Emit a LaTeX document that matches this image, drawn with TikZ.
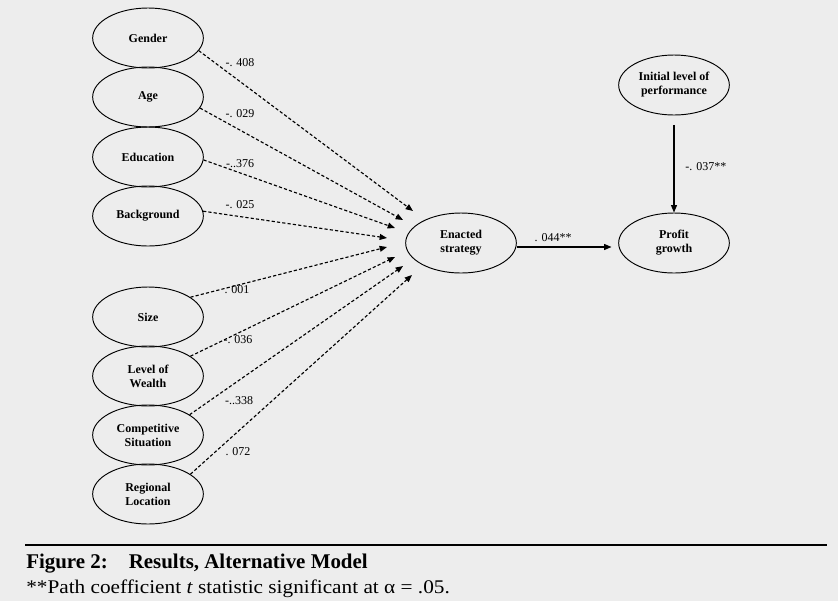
\documentclass[tikz,border=0pt]{standalone}
\usepackage{fontspec}
\setmainfont{Liberation Serif}
\newfontfamily\notefont[FakeStretch=1.1]{Liberation Serif}
\usetikzlibrary{arrows.meta,shapes.geometric}
\begin{document}
\begin{tikzpicture}[x=0.75pt,y=-0.75pt,
 var/.style={ellipse, draw, line width=0.7pt, minimum width=83pt, minimum height=45pt, inner sep=0pt, font=\fontsize{9}{10.5}\selectfont\bfseries, align=center},
 coef/.style={font=\fontsize{9}{10}\selectfont, inner sep=0pt},
 dpath/.style={line width=0.85pt, dash pattern=on 2.4pt off 1.6pt, -{Triangle[length=5.5pt,width=4.4pt]}},
 spath/.style={line width=0.85pt, -{Triangle[length=5.5pt,width=4.4pt]}}]
\fill[black!7] (0,0) rectangle (838,601);
\useasboundingbox (0,0) rectangle (838,601);

\node[var] (gender) at (148,38) {Gender};
\node[var] (age) at (148,97) {Age};
\node[var] (edu) at (148,157) {Education};
\node[var] (back) at (148,216) {Background};
\node[var] (size) at (148,317) {Size};
\node[var] (wealth) at (148,376) {Level of\\Wealth};
\node[var] (comp) at (148,435) {Competitive\\Situation};
\node[var] (reg) at (148,494) {Regional\\Location};

\node[var] (enacted) at (461,243) {Enacted\\strategy};
\node[var] (profit) at (674,243) {Profit\\growth};
\node[var] (initial) at (674,85) {Initial level of\\performance};

\coordinate (tG) at (413,211);
\coordinate (tA) at (403,220);
\coordinate (tE) at (395,228);
\coordinate (tB) at (387,238);
\coordinate (tS) at (387,247);
\coordinate (tW) at (395,257);
\coordinate (tC) at (403,266);
\coordinate (tR) at (412,275);

\draw[dpath] (gender.-14) -- (tG);
\draw[dpath] (age.-12) -- (tA);
\draw[dpath] (edu.-3) -- (tE);
\draw[dpath] (back.5) -- (tB);
\draw[dpath] (size.25) -- (tS);
\draw[dpath] (wealth.25) -- (tW);
\draw[dpath] (comp.26) -- (tC);
\draw[dpath] (reg.25) -- (tR);

\node[coef] (lG) at (240,63) {-. 408};
\node[coef] (lA) at (240,114) {-. 029};
\node[coef] (lE) at (240,164) {-..376};
\node[coef] (lB) at (240,205) {-. 025};
\node[coef] (lS) at (237,290) {. 001};
\node[coef] (lW) at (238,340) {-. 036};
\node[coef] (lC) at (239,401) {-..338};
\node[coef] (lR) at (238,452) {. 072};

\draw[spath] ([yshift=-3pt]enacted.east) -- ([yshift=-3pt,xshift=-5pt]profit.west);
\node[coef] (lEP) at (553,238) {. 044**};
\draw[spath] ([yshift=-7pt]initial.south) -- (profit.north);
\node[coef, anchor=west] (lIP) at (685,167) {-. 037**};

\draw[line width=1.8pt] (25,545) -- (827,545);
\node[anchor=base west, inner sep=0pt, font=\fontsize{15.7}{18}\selectfont\bfseries] (cap) at (26,568) {Figure 2:\hspace{1em}Results, Alternative Model};
\node[anchor=base west, inner sep=0pt, font=\notefont\fontsize{14.5}{16}\selectfont] (note) at (26,593) {**Path coefficient \textit{t} statistic significant at α = .05.};
\end{tikzpicture}
\end{document}
